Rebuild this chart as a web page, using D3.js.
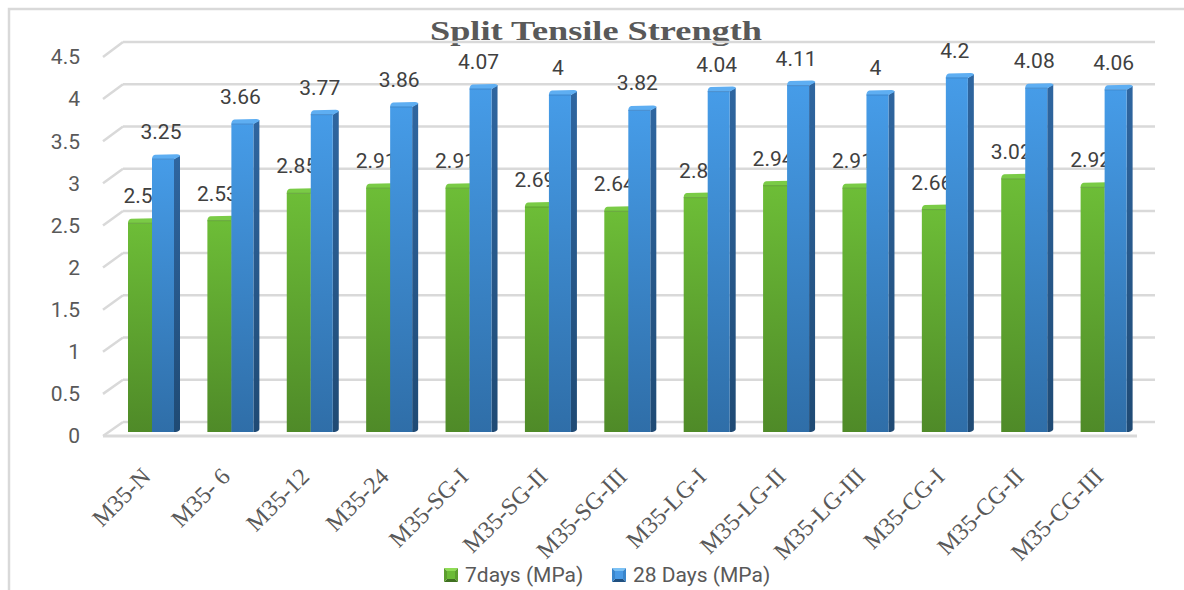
<!DOCTYPE html>
<html>
<head>
<meta charset="utf-8">
<script src="https://cdn.jsdelivr.net/npm/d3@7"></script>
<style>
  html, body { margin: 0; padding: 0; background: #fff; }
  svg { display: block; }
</style>
</head>
<body>
<script>
// Split tensile strength of M35 mixes at 7 and 28 days
const categories = ["M35-N", "M35- 6", "M35-12", "M35-24", "M35-SG-I", "M35-SG-II", "M35-SG-III",
                    "M35-LG-I", "M35-LG-II", "M35-LG-III", "M35-CG-I", "M35-CG-II", "M35-CG-III"];
const strength7 = [2.5, 2.53, 2.85, 2.91, 2.91, 2.69, 2.64, 2.8, 2.94, 2.91, 2.66, 3.02, 2.92];
const strength28 = [3.25, 3.66, 3.77, 3.86, 4.07, 4, 3.82, 4.04, 4.11, 4, 4.2, 4.08, 4.06];
const yTicks = [0, 0.5, 1, 1.5, 2, 2.5, 3, 3.5, 4, 4.5];
const seriesNames = ["7days (MPa)", "28 Days (MPa)"];
const chartTitle = "Split Tensile Strength";

const W = 1184, H = 590;
const svg = d3.select("body").append("svg").attr("width", W).attr("height", H);

// Depth offset of the 3-D plot box
const depthX = 20, depthY = 14;
const x = d3.scaleBand().domain(categories).range([103, 1135]).paddingInner(0).paddingOuter(0);
const yFront = d3.scaleLinear().domain([0, 4.5]).range([436, 57]);
const yBack = d3.scaleLinear().domain([0, 4.5]).range([436 - depthY, 57 - 15]);
const yBar = d3.scaleLinear().domain([0, 4.5]).range([432, 432 - 4.5 * 85.5]);

const grid = "#d9d9d9", axisText = "#595959", labelText = "#404040";

// Chart frame
svg.append("path")
  .attr("d", `M9,${H + 5} L9,9 L${W + 5},9`)
  .attr("fill", "none").attr("stroke", grid).attr("stroke-width", 2.5);

// Title
svg.append("text")
  .attr("x", 596).attr("y", 40)
  .attr("text-anchor", "middle")
  .attr("font-family", "'Liberation Serif', 'Times New Roman', serif")
  .attr("font-weight", "bold").attr("font-size", 28)
  .attr("fill", axisText)
  .attr("textLength", 332).attr("lengthAdjust", "spacingAndGlyphs")
  .text(chartTitle);

// Back wall gridlines and side wall diagonals
const gridG = svg.append("g");
const x0 = x.range()[0], x1 = x.range()[1];
yTicks.forEach(v => {
  gridG.append("line")
    .attr("x1", x0 + depthX).attr("x2", x1 + depthX)
    .attr("y1", yBack(v)).attr("y2", yBack(v))
    .attr("stroke", grid).attr("stroke-width", 2.5);
  gridG.append("line")
    .attr("x1", x0).attr("x2", x0 + depthX)
    .attr("y1", yFront(v)).attr("y2", yBack(v))
    .attr("stroke", grid).attr("stroke-width", 2.5);
});
// Floor front edge
gridG.append("line")
  .attr("x1", x0).attr("x2", x1 + 2)
  .attr("y1", yFront(0)).attr("y2", yFront(0))
  .attr("stroke", grid).attr("stroke-width", 3);

// Y axis labels
svg.append("g").selectAll("text").data(yTicks).join("text")
  .attr("x", 80).attr("y", d => yFront(d))
  .attr("dy", "0.35em")
  .attr("text-anchor", "end")
  .attr("font-family", "Roboto, sans-serif").attr("font-size", 21)
  .attr("fill", axisText)
  .text(d => d);

// Gradients
const defs = svg.append("defs");
function vGrad(id, top, bottom) {
  const g = defs.append("linearGradient").attr("id", id)
    .attr("x1", 0).attr("y1", 0).attr("x2", 0).attr("y2", 1);
  g.append("stop").attr("offset", "0%").attr("stop-color", top);
  g.append("stop").attr("offset", "100%").attr("stop-color", bottom);
}
vGrad("gFront", "#6dbd37", "#4f8a28");
vGrad("bFront", "#469ce8", "#2f6ea8");
vGrad("bSide", "#2f66a0", "#1f4a74");
vGrad("gSide", "#4d8a27", "#3a6a1e");

const series = [
  { name: seriesNames[0], values: strength7, off: 25, w: 24, front: "url(#gFront)", side: "url(#gSide)", top: "#7acb46", edge: "#5a9a30" },
  { name: seriesNames[1], values: strength28, off: 49, w: 22, front: "url(#bFront)", side: "url(#bSide)", top: "#5eaef2", edge: "#3a80c4" }
];
const capX = 6, capY = 5;

function drawSeries(s) {
  const g = svg.append("g");
  categories.forEach((c, i) => {
    const v = s.values[i];
    const bx = x(c) + s.off;
    const capTop = yBar(v);
    const ft = capTop + capY;
    const base = yBar(0);
    // side face
    g.append("path")
      .attr("d", `M${bx + s.w},${ft} L${bx + s.w + capX},${capTop + 1} L${bx + s.w + capX},${base - capY + 2} Q${bx + s.w + capX},${base - 1} ${bx + s.w + 2},${base} L${bx + s.w},${base} Z`)
      .attr("fill", s.side);
    // front face
    g.append("rect")
      .attr("x", bx).attr("y", ft)
      .attr("width", s.w).attr("height", base - ft)
      .attr("fill", s.front);
    // top face
    g.append("path")
      .attr("d", `M${bx},${ft} Q${bx},${capTop + 1} ${bx + 3},${capTop + 0.5} L${bx + s.w + capX - 3},${capTop} Q${bx + s.w + capX},${capTop} ${bx + s.w + capX},${capTop + 2} L${bx + s.w},${ft} Z`)
      .attr("fill", s.top);
    g.append("line")
      .attr("x1", bx).attr("x2", bx + s.w)
      .attr("y1", ft).attr("y2", ft)
      .attr("stroke", s.edge).attr("stroke-width", 0.8);
  });
  // value labels
  svg.append("g").selectAll("text").data(s.values).join("text")
    .attr("x", (d, i) => x(categories[i]) + s.off + s.w / 2 - 2)
    .attr("y", d => yBar(d) - 15)
    .attr("text-anchor", "middle")
    .attr("font-family", "Roboto, sans-serif").attr("font-size", 21)
    .attr("fill", labelText)
    .text(d => d);
}
drawSeries(series[0]);
drawSeries(series[1]);

// Category labels
svg.append("g").selectAll("text").data(categories).join("text")
  .attr("transform", d => `translate(${x(d) + 49},${478}) rotate(-45)`)
  .attr("text-anchor", "end")
  .attr("font-family", "'Liberation Serif', 'Times New Roman', serif")
  .attr("font-size", 24)
  .attr("fill", axisText)
  .text(d => d);

// Legend
const legend = svg.append("g");
const legendItems = [
  { name: seriesNames[0], x: 444, tx: 465, c: ["#8fdc55", "#5c9e2e", "#3f7020", "#6cbb37"] },
  { name: seriesNames[1], x: 612, tx: 633, c: ["#7cc2f5", "#3a86cc", "#1f4f80", "#4a9be6"] }
];
legendItems.forEach(it => {
  const s = 14, ly = 568;
  const cx = it.x + s / 2, cy = ly + s / 2;
  const pts = [[it.x, ly], [it.x + s, ly], [it.x + s, ly + s], [it.x, ly + s]];
  // four bevel triangles: top, right, bottom, left
  const order = [[0, 1, 0], [1, 2, 1], [2, 3, 2], [3, 0, 1]];
  order.forEach(([a, b, ci]) => {
    legend.append("path")
      .attr("d", `M${pts[a][0]},${pts[a][1]} L${pts[b][0]},${pts[b][1]} L${cx},${cy} Z`)
      .attr("fill", it.c[ci]);
  });
  legend.append("rect").attr("x", it.x + 3).attr("y", ly + 3).attr("width", s - 6).attr("height", s - 6).attr("fill", it.c[3]);
  legend.append("text")
    .attr("x", it.tx).attr("y", ly + 14)
    .attr("font-family", "Roboto, sans-serif").attr("font-size", 21)
    .attr("fill", axisText)
    .text(it.name);
});
</script>
</body>
</html>
